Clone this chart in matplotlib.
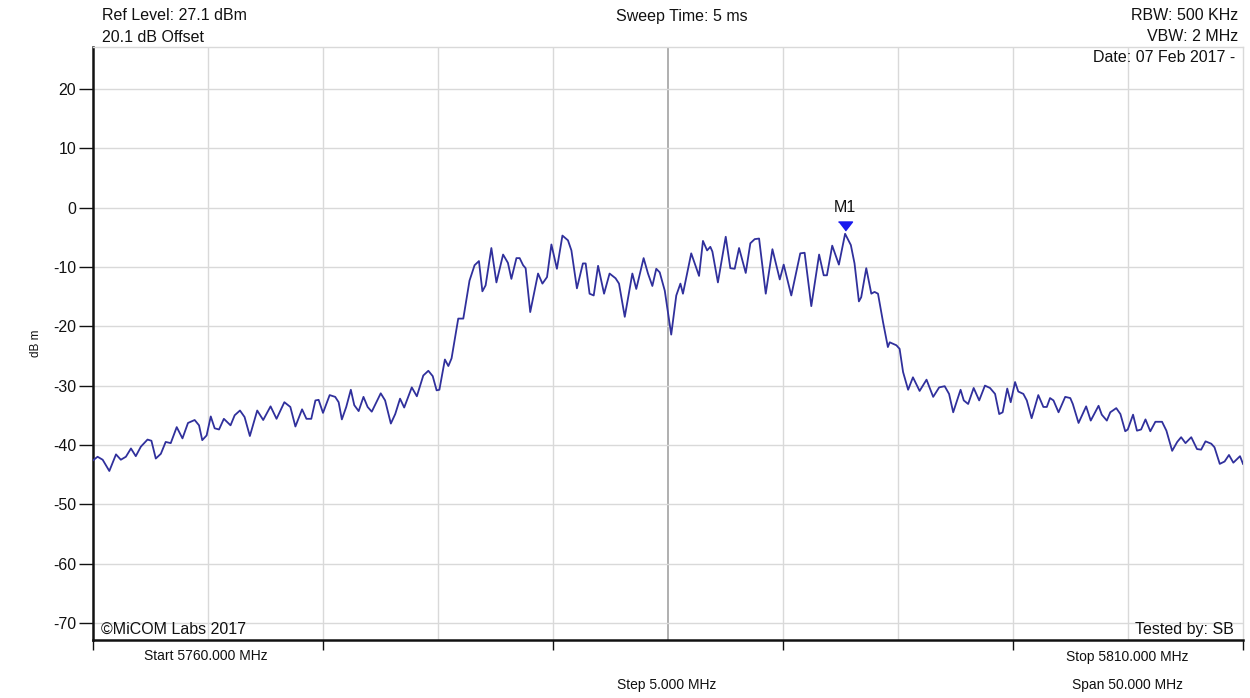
import matplotlib
matplotlib.use("Agg")
import matplotlib.pyplot as plt
from matplotlib.transforms import offset_copy

plt.rcParams['font.family'] = ['Liberation Sans', 'DejaVu Sans']

# Spectrum analyser trace: frequency (MHz) and level (dBm)
freq_mhz = [
    5760.00, 5760.20, 5760.42, 5760.71, 5761.00, 5761.21, 5761.43, 5761.65, 5761.86, 5762.08,
    5762.37, 5762.54, 5762.73, 5762.95, 5763.16, 5763.38, 5763.64, 5763.89, 5764.13, 5764.42,
    5764.61, 5764.75, 5764.94, 5765.12, 5765.29, 5765.48, 5765.69, 5765.98, 5766.16, 5766.39,
    5766.59, 5766.82, 5767.14, 5767.40, 5767.72, 5767.98, 5768.32, 5768.58, 5768.80, 5769.09,
    5769.28, 5769.49, 5769.67, 5769.81, 5770.00, 5770.29, 5770.53, 5770.68, 5770.82, 5771.01,
    5771.21, 5771.36, 5771.55, 5771.76, 5771.94, 5772.12, 5772.51, 5772.70, 5772.95, 5773.14,
    5773.35, 5773.53, 5773.86, 5774.08, 5774.36, 5774.58, 5774.77, 5774.94, 5775.06, 5775.30,
    5775.45, 5775.59, 5775.88, 5776.10, 5776.37, 5776.59, 5776.78, 5776.93, 5777.07, 5777.32,
    5777.54, 5777.83, 5778.04, 5778.19, 5778.41, 5778.55, 5778.70, 5778.81, 5779.01, 5779.35,
    5779.54, 5779.74, 5779.93, 5780.17, 5780.41, 5780.65, 5780.80, 5781.04, 5781.30, 5781.42,
    5781.59, 5781.77, 5781.96, 5782.22, 5782.46, 5782.72, 5782.87, 5783.12, 5783.45, 5783.62,
    5783.94, 5784.13, 5784.32, 5784.49, 5784.64, 5784.86, 5785.14, 5785.36, 5785.54, 5785.65,
    5786.01, 5786.35, 5786.52, 5786.70, 5786.84, 5786.93, 5787.17, 5787.51, 5787.71, 5787.90,
    5788.09, 5788.38, 5788.58, 5788.77, 5788.96, 5789.25, 5789.54, 5789.86, 5790.03, 5790.36,
    5790.75, 5790.94, 5791.23, 5791.57, 5791.77, 5791.91, 5792.14, 5792.43, 5792.70, 5792.95,
    5793.11, 5793.30, 5793.40, 5793.62, 5793.84, 5793.98, 5794.13, 5794.35, 5794.56, 5794.64,
    5794.93, 5795.07, 5795.22, 5795.44, 5795.65, 5795.94, 5796.24, 5796.53, 5796.79, 5797.03,
    5797.22, 5797.40, 5797.72, 5797.86, 5798.05, 5798.29, 5798.53, 5798.78, 5799.00, 5799.22,
    5799.40, 5799.55, 5799.75, 5799.90, 5800.09, 5800.23, 5800.45, 5800.60, 5800.81, 5801.10,
    5801.32, 5801.47, 5801.61, 5801.76, 5801.98, 5802.27, 5802.49, 5802.60, 5802.85, 5803.18,
    5803.38, 5803.72, 5803.86, 5804.08, 5804.23, 5804.49, 5804.67, 5804.88, 5804.99, 5805.22,
    5805.39, 5805.57, 5805.76, 5805.97, 5806.19, 5806.48, 5806.67, 5806.92, 5807.14, 5807.31,
    5807.50, 5807.75, 5808.00, 5808.18, 5808.37, 5808.62, 5808.76, 5808.99, 5809.20, 5809.39,
    5809.58, 5809.87, 5810.00,
]
level_dbm = [
    -42.6, -42.0, -42.5, -44.4, -41.6, -42.5, -42.0, -40.6, -41.9, -40.3,
    -39.1, -39.3, -42.3, -41.5, -39.5, -39.7, -37.0, -38.9, -36.3, -35.8,
    -36.7, -39.2, -38.4, -35.2, -37.2, -37.4, -35.6, -36.7, -35.0, -34.2,
    -35.3, -38.5, -34.2, -35.8, -33.5, -35.6, -32.8, -33.6, -36.9, -34.0,
    -35.6, -35.6, -32.5, -32.4, -34.6, -31.6, -31.9, -32.8, -35.7, -33.6,
    -30.7, -33.3, -34.3, -31.9, -33.6, -34.4, -31.3, -32.5, -36.4, -34.8,
    -32.2, -33.7, -30.3, -31.8, -28.3, -27.5, -28.4, -30.8, -30.7, -25.6,
    -26.7, -25.4, -18.7, -18.7, -12.3, -9.7, -9.0, -14.1, -13.1, -6.8,
    -12.6, -7.9, -9.3, -12.0, -8.5, -8.5, -9.7, -10.2, -17.6, -11.1,
    -12.8, -11.7, -6.2, -10.3, -4.7, -5.5, -7.2, -13.6, -9.4, -9.4,
    -14.5, -14.8, -9.8, -14.5, -11.1, -11.9, -12.8, -18.4, -11.1, -13.7,
    -8.5, -11.1, -13.2, -10.3, -10.9, -14.0, -21.4, -14.8, -12.8, -14.5,
    -7.7, -11.5, -5.6, -7.2, -6.6, -7.4, -12.6, -4.9, -10.2, -10.3,
    -6.8, -11.0, -6.0, -5.3, -5.2, -14.5, -7.0, -12.1, -9.6, -14.8,
    -7.7, -7.6, -16.6, -7.9, -11.4, -11.4, -6.4, -9.6, -4.4, -6.3,
    -9.4, -15.8, -15.1, -10.2, -14.5, -14.2, -14.5, -19.3, -23.5, -22.7,
    -23.2, -23.8, -27.7, -30.7, -28.6, -30.9, -29.0, -31.9, -30.3, -30.1,
    -31.4, -34.5, -30.7, -32.5, -33.1, -30.4, -32.5, -30.0, -30.4, -31.4,
    -34.8, -34.5, -30.5, -32.8, -29.4, -31.0, -31.4, -32.5, -35.5, -31.6,
    -33.6, -33.6, -32.1, -32.5, -34.5, -31.9, -32.1, -33.1, -36.3, -33.5,
    -35.9, -33.4, -34.9, -35.9, -34.5, -33.8, -34.8, -37.7, -37.4, -34.9,
    -37.6, -37.4, -35.7, -37.7, -36.1, -36.1, -37.6, -41.0, -39.5, -38.7,
    -39.7, -38.7, -40.7, -40.8, -39.4, -39.8, -40.4, -43.2, -42.8, -41.7,
    -43.0, -41.9, -43.2,
]

# Marker M1 (peak)
marker_label = "M1"
marker_freq = 5792.70
marker_level = -4.4

# Axis settings
start_mhz, stop_mhz = 5760.0, 5810.0
ref_level = 27.1
y_ticks = [20, 10, 0, -10, -20, -30, -40, -50, -60, -70]
grid_freqs = [5765, 5770, 5775, 5780, 5790, 5795, 5800, 5805]
center_freq = 5785
x_major_ticks = [5760, 5770, 5780, 5790, 5800, 5810]

W, H = 1250, 698
fig = plt.figure(figsize=(W / 100, H / 100), dpi=100)
ax = fig.add_axes([93 / W, 1 - 640 / H, 1150 / W, 593 / H])

grid_c = '#d9d9d9'
for f in grid_freqs:
    ax.axvline(f, color=grid_c, lw=1.0, zorder=1)
ax.axvline(center_freq, color='#a9a9a9', lw=1.3, zorder=1)
for y in y_ticks:
    ax.axhline(y, color=grid_c, lw=1.0, zorder=1)

ax.plot(freq_mhz, level_dbm, color='#30309c', lw=1.3, zorder=3)

# Peak marker: downward triangle sitting on the trace
tri = [(-7, 4.5), (7, 4.5), (0, -4.5)]
mtrans = offset_copy(ax.transData, fig=fig, x=0, y=7.5, units='dots')
ax.plot([marker_freq], [marker_level], marker=tri, markersize=10.1,
        color='#1a1aee', transform=mtrans, zorder=4, linestyle='none')
ax.annotate(marker_label, xy=(marker_freq, marker_level), xytext=(0, 21.5),
            textcoords='offset pixels', ha='center', va='baseline',
            fontsize=11.5, color='#111111', zorder=5)

ax.set_xlim(start_mhz, stop_mhz)
ax.set_ylim(ref_level - 100, ref_level)
ax.set_yticks(y_ticks)
ax.set_yticklabels([str(v) for v in y_ticks])
ax.set_xticks(x_major_ticks)
ax.set_xticklabels([])
ax.tick_params(axis='y', direction='out', length=10, width=1.0, pad=2,
               labelsize=11.5, colors='#111111')
ax.tick_params(axis='x', direction='out', length=7, width=1.0, colors='#111111')

for side in ('left', 'bottom'):
    ax.spines[side].set_color('#111111')
    ax.spines[side].set_linewidth(1.8)
for side in ('top', 'right'):
    ax.spines[side].set_color(grid_c)
    ax.spines[side].set_linewidth(1.0)

ax.set_ylabel('dB m', fontsize=8.5, color='#111111', labelpad=8)


def ftext(x, y, s, ha='left', size=11.5):
    fig.text(x / W, 1 - y / H, s, ha=ha, va='baseline', fontsize=size, color='#111111')


ftext(102, 20.5, 'Ref Level: 27.1 dBm')
ftext(102, 41.5, '20.1 dB Offset')
ftext(682, 21, 'Sweep Time: 5 ms', ha='center')
ftext(1238, 20.5, 'RBW: 500 KHz', ha='right')
ftext(1238, 41, 'VBW: 2 MHz', ha='right')
ftext(1235, 62.5, 'Date: 07 Feb 2017 -', ha='right')
ftext(101, 634, '\u00a9MiCOM Labs 2017')
ftext(1234, 634, 'Tested by: SB', ha='right')
ftext(206, 660.5, 'Start 5760.000 MHz', ha='center', size=10)
ftext(1127, 660.5, 'Stop 5810.000 MHz', ha='center', size=10)
ftext(667, 689, 'Step 5.000 MHz', ha='center', size=10)
ftext(1127, 689, 'Span 50.000 MHz', ha='center', size=10)

fig.savefig('out.png', dpi=100, facecolor='white')
